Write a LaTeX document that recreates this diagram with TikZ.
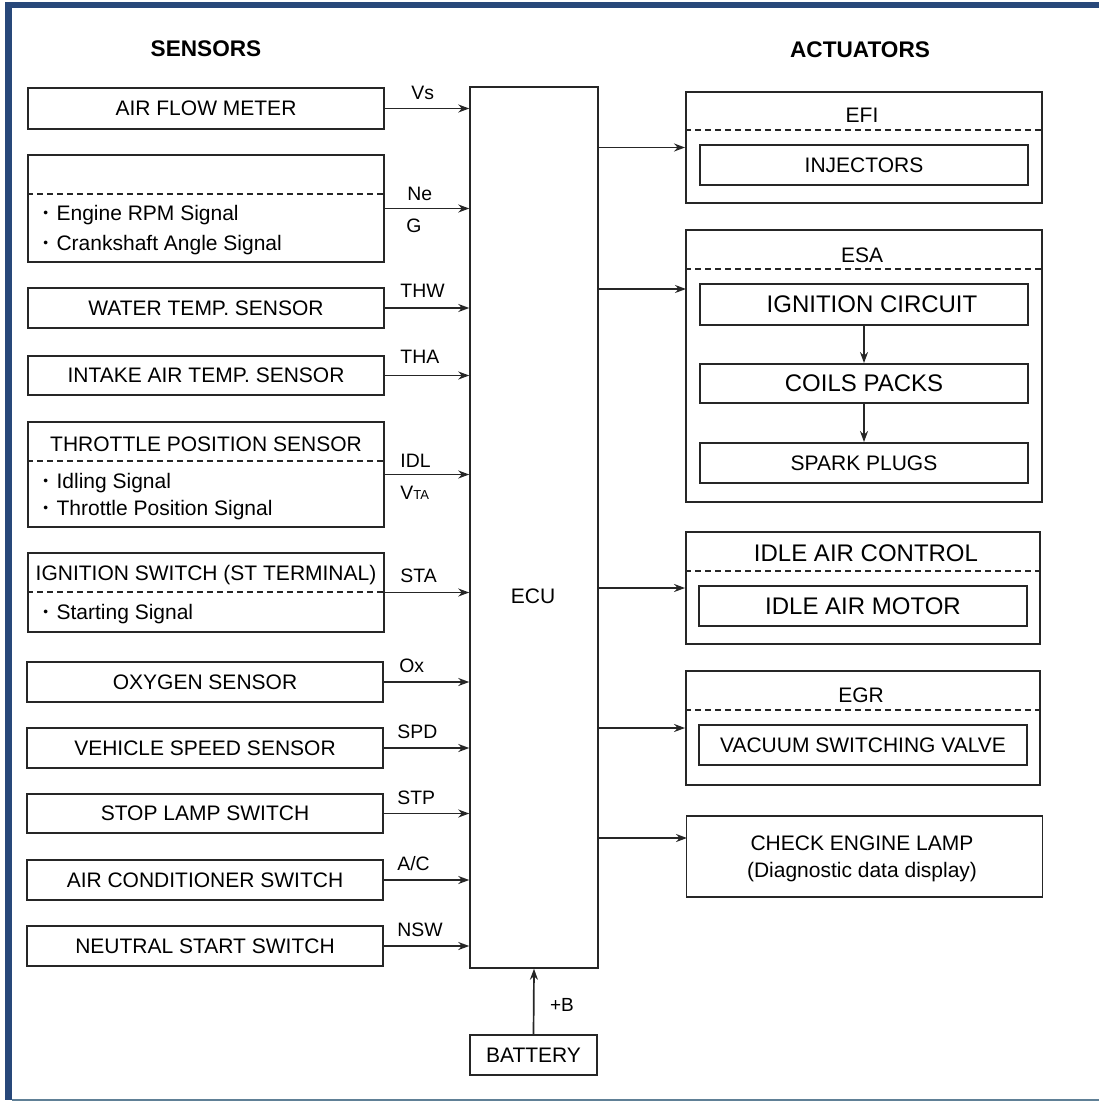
\documentclass[tikz,border=0pt]{standalone}
\usepackage{fontspec}
\setmainfont{Liberation Sans}
\usetikzlibrary{arrows.meta,calc}
\definecolor{frameblue}{RGB}{40,72,122}
\definecolor{framegrey}{RGB}{96,128,150}
\newcommand{\myfs}{\fontsize{10.5}{12.6}\selectfont}
\newcommand{\bul}{\raisebox{0.22ex}{\scalebox{0.65}{•}}\hspace{0.4em}}
\begin{document}
\begin{tikzpicture}[x=0.5pt,y=-0.5pt,
  box/.style={draw=black!85, line width=0.95pt, inner sep=0pt, font=\myfs},
  sbox/.style={box, minimum width=178pt, minimum height=20pt},
  abox/.style={box, minimum width=178pt},
  ibox/.style={box, minimum width=164pt, minimum height=20pt},
  ebox/.style={draw=black!85, line width=0.75pt, inner sep=0pt, font=\myfs},
  big/.style={font=\fontsize{12}{14}\selectfont},
  tbase/.style={inner sep=0pt, anchor=base, font=\myfs},
  txtl/.style={inner sep=0pt, anchor=base west, font=\myfs},
  lab/.style={inner sep=0pt, anchor=base west, font=\fontsize{9.7}{11}\selectfont},
  ttl/.style={inner sep=0pt, font=\bfseries\fontsize{11.3}{13}\selectfont},
  dashline/.style={draw=black!85, line width=0.9pt, dash pattern=on 3pt off 2pt},
  arr/.style={-{Stealth[length=5.5pt,width=4pt]}, line width=0.85pt, draw=black!85}
]
\useasboundingbox (0,0) rectangle (1099,1102);
% frame
\fill[frameblue] (7,2) rectangle (1099,8);
\fill[frameblue] (5,2) rectangle (12,1100);
\draw[framegrey, line width=1.2pt] (12,1100) -- (1099,1100);

% titles
\node[ttl] (sen) at (206,49) {SENSORS};
\node[ttl] (act) at (860,50) {ACTUATORS};

% sensors
\node[sbox, minimum height=20.5pt] (afm) at (206,108.5) {AIR FLOW METER};
\node[sbox, minimum height=53.5pt] (rpm) at (206,208.5) {};
\draw[dashline] ([yshift=-20pt]rpm.north west) -- ([yshift=-20pt]rpm.north east);
\node[txtl] (rpm1) at (43,220) {\bul Engine RPM Signal};
\node[txtl] (rpm2) at (43,250) {\bul Crankshaft Angle Signal};
\node[sbox] (wts) at (206,308) {WATER TEMP. SENSOR};
\node[sbox, minimum height=19.5pt] (iat) at (206,375.5) {INTAKE AIR TEMP. SENSOR};
\node[sbox, minimum height=52.5pt] (tps) at (206,474.5) {};
\draw[dashline] ([yshift=-20pt]tps.north west) -- ([yshift=-20pt]tps.north east);
\node[tbase] (tpsl) at (206,451) {THROTTLE POSITION SENSOR};
\node[txtl] (tps1) at (43,488) {\bul Idling Signal};
\node[txtl] (tps2) at (43,515) {\bul Throttle Position Signal};
\node[sbox, minimum height=39.5pt] (ign) at (206,592.5) {};
\draw[dashline] ([yshift=-20pt]ign.north west) -- ([yshift=-20pt]ign.north east);
\node[tbase] (ignl) at (206,580) {IGNITION SWITCH (ST TERMINAL)};
\node[txtl] (ign1) at (43,619) {\bul Starting Signal};
\node[sbox] (oxy) at (205,682) {OXYGEN SENSOR};
\node[sbox] (vss) at (205,748) {VEHICLE SPEED SENSOR};
\node[sbox, minimum height=19.5pt] (stp) at (205,813.5) {STOP LAMP SWITCH};
\node[sbox] (acs) at (205,880) {AIR CONDITIONER SWITCH};
\node[sbox] (nss) at (205,946) {NEUTRAL START SWITCH};

% ECU and battery
\node[ebox, minimum width=64pt, minimum height=440.5pt] (ecu) at (534,527.5) {};
\node[inner sep=0pt, font=\myfs] (ecul) at (533,596) {ECU};
\node[ebox, minimum width=63.5pt, minimum height=20pt] (bat) at (533.5,1055) {BATTERY};
\draw[arr] (bat.north) -- (ecu.south);
\node[inner sep=0pt, font=\fontsize{9.5}{11}\selectfont] (plusb) at (562,1005) {+B};

% sensor arrows
\foreach \n in {afm,rpm,wts,iat,tps,ign,oxy,vss,stp,acs,nss}
  \draw[arr] (\n.east) -- (\n.east -| ecu.west);

% signal labels
\node[lab] (lvs) at (411,100) {Vs};
\node[lab] (lne) at (407,200) {Ne};
\node[lab] (lg) at (406,232) {G};
\node[lab] (lthw) at (400,297) {THW};
\node[lab] (ltha) at (400,363) {THA};
\node[lab] (lidl) at (400,467) {IDL};
\node[lab] (lvta) at (400,499) {V{\fontsize{6.5}{7}\selectfont TA}};
\node[lab] (lsta) at (400,582) {STA};
\node[lab] (lox) at (399,672) {Ox};
\node[lab] (lspd) at (397,738) {SPD};
\node[lab] (lstp) at (397,804) {STP};
\node[lab] (lac) at (397,870) {A/C};
\node[lab] (lnsw) at (397,936) {NSW};

% actuators
\node[abox, minimum height=55.5pt] (efi) at (864,147.5) {};
\draw[dashline] ([yshift=-19.5pt]efi.north west) -- ([yshift=-19.5pt]efi.north east);
\node[tbase] (efil) at (862,122) {EFI};
\node[ibox] (inj) at (864,165) {INJECTORS};
\draw[arr] (ecu.east |- efi.west) -- (efi.west);

\node[abox, minimum height=136pt] (esa) at (864,366) {};
\draw[dashline] ([yshift=-20pt]esa.north west) -- ([yshift=-20pt]esa.north east);
\node[tbase] (esal) at (862,262) {ESA};
\node[ibox, big, minimum height=20.5pt] (ic) at (864,304.5) {\hspace*{8pt}IGNITION CIRCUIT};
\node[ibox, big, minimum height=19.5pt] (cp) at (864,383.5) {COILS PACKS};
\node[ibox] (sp) at (864,463) {SPARK PLUGS};
\draw[arr] (ic) -- (cp);
\draw[arr] (cp) -- (sp);
\coordinate (esain) at (686,289);
\draw[arr] (ecu.east |- esain) -- (esain);

\node[abox, minimum width=177pt, minimum height=56pt] (iac) at (863,588) {};
\draw[dashline] ([yshift=-20pt]iac.north west) -- ([yshift=-20pt]iac.north east);
\node[tbase, big] (iacl) at (866,561) {IDLE AIR CONTROL};
\node[ibox, big] (iam) at (863,606) {IDLE AIR MOTOR};
\draw[arr] (ecu.east |- iac.west) -- (iac.west);

\node[abox, minimum width=177pt, minimum height=57pt] (egr) at (863,728) {};
\draw[dashline] ([yshift=-20pt]egr.north west) -- ([yshift=-20pt]egr.north east);
\node[tbase] (egrl) at (861,702) {EGR};
\node[ibox] (vsv) at (863,745) {VACUUM SWITCHING VALVE};
\draw[arr] (ecu.east |- egr.west) -- (egr.west);

\node[abox, minimum height=40.5pt] (cel) at (864.5,856.5) {};
\node[tbase] (cel1) at (862,850) {CHECK ENGINE LAMP};
\node[tbase] (cel2) at (862,877) {(Diagnostic data display)};
\coordinate (celin) at (687,838);
\draw[arr] (ecu.east |- celin) -- (celin);
\end{tikzpicture}
\end{document}
